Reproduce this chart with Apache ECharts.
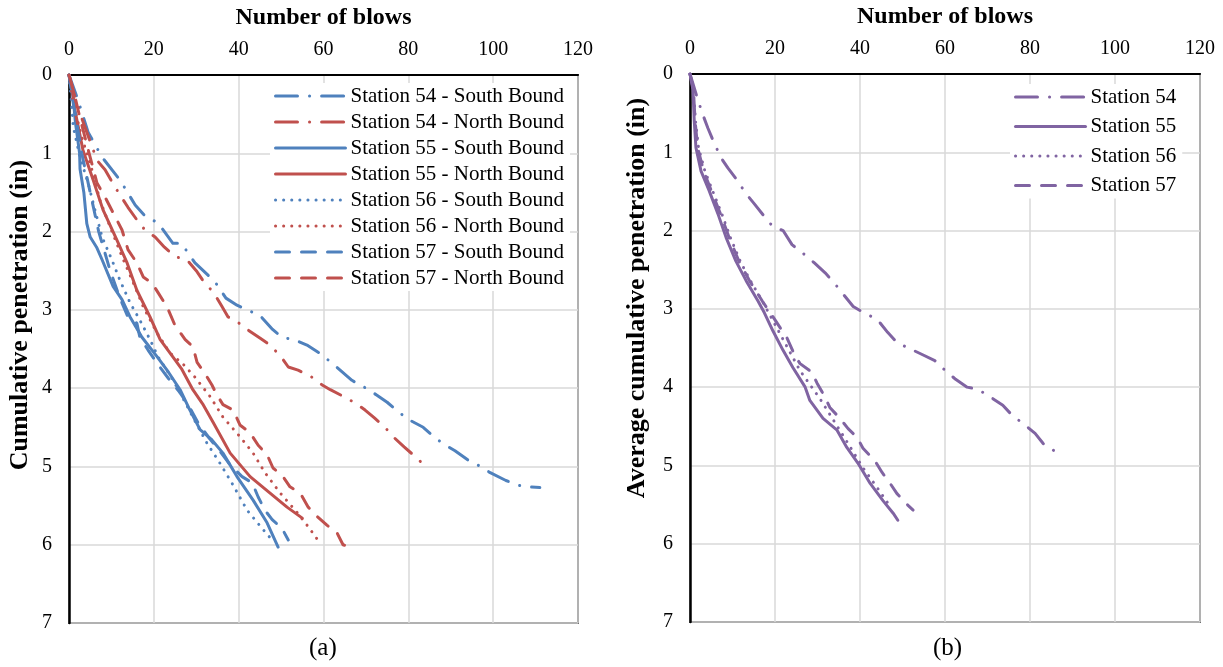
<!DOCTYPE html>
<html>
<head>
<meta charset="utf-8">
<script src="https://cdn.jsdelivr.net/npm/echarts@6/dist/echarts.min.js"></script>
<style>
html,body{margin:0;padding:0;background:#fff;}
#chart{width:1223px;height:667px;}
</style>
</head>
<body>
<div id="chart"></div>
<script>
// ---- data: [number of blows, cumulative penetration (in)] ----
const xTicks = [0, 20, 40, 60, 80, 100, 120];
const yTicks = [0, 1, 2, 3, 4, 5, 6, 7];

const st54South = [[0,0],[2,0.3],[4.5,0.73],[7.8,1.05],[12,1.34],[15.6,1.66],[17.9,1.8],[21,1.89],[24.5,2.15],[26.5,2.15],[29.7,2.4],[34.4,2.64],[37,2.85],[39.6,2.94],[42,3.0],[45,3.07],[48,3.25],[50.2,3.35],[53,3.38],[56.1,3.45],[59,3.55],[62,3.68],[66.7,3.9],[70,4.0],[72.6,4.09],[75,4.18],[77.6,4.3],[80,4.4],[83.5,4.5],[86,4.62],[88.2,4.71],[91,4.8],[94.1,4.92],[97,5.0],[99.3,5.08],[103,5.18],[105.9,5.24],[108,5.26],[111,5.27]];
const st54North = [[0,0],[1.5,0.3],[3,0.55],[5,0.85],[6.6,1.09],[8.5,1.21],[10.5,1.4],[12,1.53],[13.9,1.69],[16,1.85],[17.9,1.98],[20.3,2.07],[22.5,2.2],[25,2.32],[27.8,2.36],[30,2.5],[32,2.66],[34,2.77],[36,2.95],[37.5,3.09],[39.6,3.15],[42,3.25],[45,3.36],[47.4,3.45],[50,3.6],[51.7,3.73],[54,3.77],[57,3.85],[59.7,3.96],[61.6,4.02],[64.5,4.1],[67.5,4.19],[69.8,4.28],[72,4.38],[74.5,4.5],[76.4,4.62],[79,4.75],[81.1,4.85],[83.3,4.96]];
const st55South = [[0,0],[1,0.3],[1.5,0.6],[2,0.8],[2.5,1.0],[2.6,1.2],[3.5,1.5],[4.2,1.9],[5,2.07],[6.5,2.2],[7.8,2.36],[10.4,2.7],[12.5,2.87],[14.4,3.09],[17.2,3.35],[20.8,3.6],[23.5,3.8],[26.2,4.02],[28.5,4.28],[30.9,4.53],[33.5,4.65],[36.3,4.83],[39.6,5.13],[43.4,5.43],[46.7,5.72],[49.3,6.03]];
const st55North = [[0,0],[0.8,0.2],[1.4,0.45],[3.3,0.96],[5.7,1.34],[8,1.72],[11.3,2.11],[13.7,2.4],[16,2.75],[19.1,3.09],[21.5,3.38],[25,3.64],[26.5,3.75],[29.2,4.02],[31.5,4.2],[34,4.44],[38,4.83],[42.7,5.13],[47.4,5.34],[51.4,5.52],[55,5.66]];
const st56South = [[0,0],[0.5,0.3],[1,0.66],[2.6,1.05],[4.5,1.38],[6.1,1.72],[7.8,2.07],[10.1,2.36],[12,2.62],[14.4,2.91],[16.7,3.13],[19.1,3.38],[21,3.6],[24,3.85],[26.2,4.06],[29.5,4.4],[32.5,4.7],[35.6,4.96],[38.7,5.24],[42,5.56],[45.5,5.79],[47.4,5.91]];
const st56North = [[0,0],[1,0.36],[3,0.79],[5.4,1.21],[7.3,1.6],[9.7,1.94],[12.5,2.32],[14.9,2.62],[17.5,2.96],[20.8,3.3],[23.8,3.55],[27,3.7],[29.7,3.86],[33.3,4.11],[36.3,4.37],[40.3,4.62],[43.4,4.83],[46.2,5.08],[49.8,5.34],[53.8,5.59],[56.4,5.77],[59.2,5.98]];
const st57South = [[0,0],[0.8,0.3],[1.5,0.5],[3,1.0],[5,1.5],[7,2.0],[9.7,2.5],[12,2.85],[13.9,3.09],[16,3.17],[16.7,3.35],[18.6,3.51],[21,3.7],[23.5,3.88],[26.2,4.06],[28.5,4.25],[30.4,4.44],[32.8,4.62],[35.5,4.8],[38,4.98],[40.8,5.13],[43.2,5.21],[44.6,5.39],[46.2,5.56],[47.9,5.68],[50.2,5.79],[51.7,5.94]];
const st57North = [[0,0],[1.5,0.3],[2.6,0.55],[4.5,0.95],[6.6,1.38],[8.5,1.56],[10.4,1.76],[12.5,1.98],[13.9,2.23],[16,2.4],[17.5,2.58],[19.6,2.66],[21,2.78],[23.1,2.96],[25,3.2],[27.4,3.38],[29.2,3.47],[30.2,3.67],[32,3.81],[33.7,3.96],[34.9,4.09],[36.3,4.21],[38.7,4.28],[40.3,4.47],[42.7,4.57],[44.6,4.73],[46.7,4.85],[48.1,5.02],[50.2,5.11],[52.1,5.26],[54.5,5.34],[56.4,5.52],[58.5,5.64],[60.8,5.75],[63.2,5.85],[64.6,6.0],[66.3,6.03]];

const avg54 = [[0,0],[1.9,0.34],[3.3,0.56],[4.2,0.69],[5.6,0.87],[7.3,1.07],[8.9,1.2],[11,1.35],[13.2,1.53],[15,1.65],[17.2,1.8],[19.5,1.95],[21.9,2.0],[24,2.18],[26.8,2.3],[29.2,2.41],[31.8,2.54],[34.1,2.68],[36,2.81],[38.4,2.97],[41.2,3.06],[44,3.13],[46.5,3.3],[48.7,3.43],[51,3.49],[54.5,3.58],[57.6,3.66],[59.5,3.76],[62.5,3.9],[65.2,4.0],[67.8,4.03],[70.5,4.12],[73.6,4.23],[75.8,4.36],[78.5,4.47],[81.2,4.59],[83.1,4.72],[85.9,4.82]];
const avg55 = [[0,0],[0.7,0.2],[1,0.6],[1.4,0.94],[2.6,1.24],[4.5,1.49],[6.6,1.79],[8.5,2.09],[10.8,2.39],[13.2,2.64],[16,2.9],[17.5,3.05],[19.5,3.28],[21.9,3.53],[24.2,3.75],[27.1,4.0],[28.2,4.17],[31.3,4.4],[34.6,4.55],[36.9,4.77],[39.5,4.97],[42.4,5.23],[45.4,5.45],[47.8,5.61],[48.9,5.7]];
const avg56 = [[0,0],[0.8,0.2],[1.3,0.6],[2,0.94],[3.5,1.24],[5.3,1.49],[7.5,1.79],[9.5,2.09],[11.8,2.39],[14.2,2.64],[17,2.9],[19.5,3.15],[22.4,3.44],[25.9,3.79],[30.6,4.15],[33.5,4.4],[36.5,4.66],[40.7,5.03],[44,5.28],[46.4,5.47],[47.5,5.54]];
const avg57 = [[0,0],[0.8,0.2],[1.2,0.6],[1.8,0.94],[3.2,1.24],[5,1.49],[7.2,1.79],[9.2,2.09],[11.5,2.39],[14,2.64],[17,2.9],[19.5,3.1],[21.2,3.24],[22.8,3.37],[24.7,3.6],[25.9,3.7],[28.7,3.81],[29.9,3.95],[31.8,4.13],[32.9,4.26],[35.3,4.4],[37.2,4.53],[39.3,4.64],[40.7,4.78],[43.5,4.94],[45.2,5.09],[47.1,5.23],[48.7,5.36],[51.3,5.51],[52.5,5.57]];

const leftNames = ['Station 54 - South Bound','Station 54 - North Bound','Station 55 - South Bound','Station 55 - North Bound','Station 56 - South Bound','Station 56 - North Bound','Station 57 - South Bound','Station 57 - North Bound'];
const rightNames = ['Station 54','Station 55','Station 56','Station 57'];
const panelCaptions = ['(a)', '(b)'];
const xTitle = 'Number of blows';
const yTitleLeft = 'Cumulative penetration (in)';
const yTitleRight = 'Average cumulative penetration (in)';

// ---- styles ----
const BLUE = '#4F81BD', RED = '#C0504D', PURPLE = '#8064A2';
const FONT = '"Liberation Serif","Times New Roman",serif';
const LW = 3;
const dashDot = [22, 12, 0.1, 12];
const dotted = [0.1, 8];
const dashed = [14, 12];

function mkSeries(name, data, color, type, idx) {
  return {
    name: name, type: 'line', data: data, xAxisIndex: idx, yAxisIndex: idx,
    symbol: 'none', showSymbol: false, smooth: false, animation: false,
    lineStyle: { color: color, width: LW, type: type, cap: 'round', join: 'round' },
    itemStyle: { color: color }
  };
}

const leftData = [st54South, st54North, st55South, st55North, st56South, st56North, st57South, st57North];
const leftColors = [BLUE, RED, BLUE, RED, BLUE, RED, BLUE, RED];
const leftTypes = [dashDot, dashDot, 'solid', 'solid', dotted, dotted, dashed, dashed];
const rightData = [avg54, avg55, avg56, avg57];
const rightTypes = [dashDot, 'solid', dotted, dashed];

const series = [];
leftNames.forEach((n, i) => series.push(mkSeries(n, leftData[i], leftColors[i], leftTypes[i], 0)));
rightNames.forEach((n, i) => series.push(mkSeries(n, rightData[i], PURPLE, rightTypes[i], 1)));

function xAxis(gi) {
  return {
    gridIndex: gi, type: 'value', position: 'top', min: xTicks[0], max: xTicks[xTicks.length-1], interval: 20,
    name: xTitle, nameLocation: 'middle', nameGap: 45,
    nameTextStyle: { fontFamily: FONT, fontWeight: 'bold', fontSize: 24, color: '#000' },
    axisLine: { show: true, onZero: false, lineStyle: { color: '#000', width: 2 } },
    axisTick: { show: false },
    axisLabel: { fontFamily: FONT, fontSize: 20, color: '#000', margin: 15 },
    splitLine: { show: true, lineStyle: { color: '#d9d9d9', width: 1.5 } }
  };
}
function yAxis(gi) {
  return {
    gridIndex: gi, type: 'value', inverse: true, min: yTicks[0], max: yTicks[yTicks.length-1], interval: 1,
    axisLine: { show: true, onZero: false, lineStyle: { color: '#000', width: 2.5 } },
    axisTick: { show: false },
    axisLabel: { fontFamily: FONT, fontSize: 20, color: '#000', margin: 17 },
    splitLine: { show: true, lineStyle: { color: '#d9d9d9', width: 1.5 } }
  };
}

const legendCommon = {
  orient: 'vertical', backgroundColor: '#fff', padding: [2, 6, 2, 4],
  itemWidth: 70, itemHeight: 10,
  itemStyle: { color: 'rgba(0,0,0,0)', borderColor: 'rgba(0,0,0,0)', borderWidth: 0, opacity: 0 },
  lineStyle: { width: LW },
  textStyle: { fontFamily: FONT, fontSize: 21, color: '#000', lineHeight: 22 }
};

function yTitle(text, cx, cy) {
  return {
    type: 'text', x: cx, y: cy, rotation: Math.PI / 2,
    style: { text: text, font: 'bold 26px ' + FONT, fill: '#000', align: 'center', verticalAlign: 'middle', textAlign: 'center', textVerticalAlign: 'middle' }
  };
}

const option = {
  backgroundColor: '#fff',
  animation: false,
  grid: [
    { left: 69, top: 75, width: 509, height: 548, show: true, borderColor: '#000', borderWidth: 1.5, backgroundColor: 'transparent' },
    { left: 690, top: 73, width: 510, height: 549, show: true, borderColor: '#000', borderWidth: 1.5, backgroundColor: 'transparent' }
  ],
  xAxis: [xAxis(0), xAxis(1)],
  yAxis: [yAxis(0), yAxis(1)],
  legend: [
    Object.assign({}, legendCommon, { data: leftNames, left: 270, top: 83, itemGap: 4 }),
    Object.assign({}, legendCommon, { data: rightNames, left: 1010, top: 84, itemGap: 7.5 })
  ],
  graphic: [
    yTitle(yTitleLeft, 20, 315),
    yTitle(yTitleRight, 637, 298),
    { type: 'text', left: 309, top: 636, style: { text: panelCaptions[0], font: '25px ' + FONT, fill: '#000' } },
    { type: 'text', left: 933, top: 636, style: { text: panelCaptions[1], font: '25px ' + FONT, fill: '#000' } }
  ],
  series: series
};

const chart = echarts.init(document.getElementById('chart'), null, { renderer: 'canvas' });
chart.setOption(option);
</script>
</body>
</html>
